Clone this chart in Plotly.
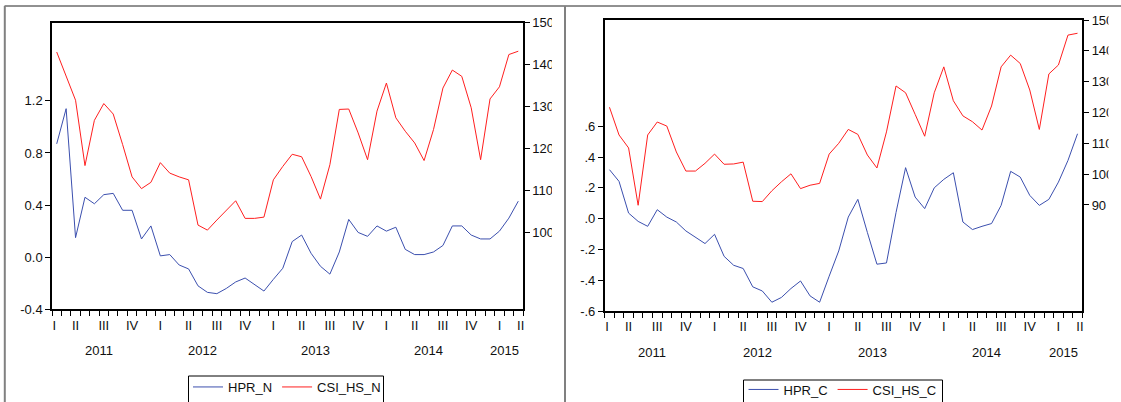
import numpy as np
import pandas as pd
import plotly.graph_objects as go

# ---------------- data (monthly, 2011M03 - 2015M04) ----------------
months = [str(p) for p in pd.period_range("2011-03", "2015-04", freq="M")]

hpr_n = [0.87, 1.14, 0.15, 0.46, 0.41, 0.48, 0.49, 0.36, 0.36, 0.14,
         0.24, 0.01, 0.02, -0.06, -0.09, -0.22, -0.27, -0.28, -0.24, -0.19,
         -0.16, -0.21, -0.26, -0.17, -0.085, 0.12, 0.17, 0.03, -0.07, -0.13,
         0.04, 0.29, 0.19, 0.16, 0.24, 0.20, 0.23, 0.06, 0.02, 0.02,
         0.04, 0.09, 0.24, 0.24, 0.17, 0.14, 0.14, 0.20, 0.30, 0.43]

csi_hs_n = [143.0, 137.0, 131.5, 115.9, 126.7, 130.7, 128.2, 120.9, 113.2, 110.4,
            111.9, 116.6, 114.1, 113.2, 112.5, 101.7, 100.5, 102.9, 105.3, 107.5,
            103.3, 103.3, 103.6, 112.5, 115.7, 118.6, 118.0, 113.3, 107.9, 116.1,
            129.3, 129.4, 123.7, 117.3, 128.9, 135.6, 127.3, 124.1, 121.3, 117.1,
            124.5, 134.4, 138.7, 137.2, 129.7, 117.3, 131.8, 134.7, 142.4, 143.2]

hpr_c = [0.318, 0.242, 0.036, -0.018, -0.05, 0.058, 0.01, -0.022, -0.08, -0.119,
         -0.162, -0.102, -0.245, -0.303, -0.324, -0.443, -0.47, -0.543, -0.512, -0.454,
         -0.405, -0.502, -0.543, -0.374, -0.21, 0.01, 0.125, -0.09, -0.296, -0.288,
         0.04, 0.331, 0.14, 0.065, 0.20, 0.255, 0.298, -0.022, -0.071, -0.05,
         -0.032, 0.086, 0.307, 0.27, 0.151, 0.086, 0.125, 0.237, 0.378, 0.551]

csi_hs_c = [121.7, 112.7, 108.5, 89.9, 112.7, 116.9, 115.6, 107.2, 101.0, 101.0,
            103.5, 106.5, 103.2, 103.3, 103.9, 91.2, 91.1, 94.6, 97.5, 100.1,
            95.3, 96.4, 97.0, 106.5, 110.0, 114.5, 112.9, 106.2, 102.0, 113.7,
            128.6, 126.4, 119.4, 112.3, 126.4, 134.8, 123.8, 118.9, 117.0, 114.3,
            122.1, 134.8, 138.6, 135.9, 127.3, 114.5, 132.5, 135.4, 145.1, 145.7]

quarter_names = ["I", "II", "III", "IV"]
left1_ticks = [-0.4, 0.0, 0.4, 0.8, 1.2]
left1_text = ["-0.4", "0.0", "0.4", "0.8", "1.2"]
right1_ticks = [100, 110, 120, 130, 140, 150]
left2_ticks = [-0.6, -0.4, -0.2, 0.0, 0.2, 0.4, 0.6]
left2_text = ["-.6", "-.4", "-.2", ".0", ".2", ".4", ".6"]
right2_ticks = [90, 100, 110, 120, 130, 140, 150]

# ---------------- derived axis positions ----------------
n = len(months)
idx = np.arange(n)
per = pd.PeriodIndex(months, freq="M")
# quarter labels at middle month of each quarter (clamped at edges)
q_pos, q_txt = [], []
for q in pd.period_range(per[0].asfreq("Q"), per[-1].asfreq("Q"), freq="Q"):
    mid = q.asfreq("M", "s") + 1
    pos = (mid - per[0]).n
    pos = min(max(pos, -0.25), n - 0.75)
    q_pos.append(pos)
    q_txt.append(quarter_names[q.quarter - 1])
boundaries = list(np.arange(-0.5, n, 1.0))
years = sorted(set(per.year))
year_pos = [float(np.mean(idx[per.year == y])) for y in years]

W, H = 1121, 402
FONT = "Liberation Sans, Arial, sans-serif"
BLUE = "#3b4fae"
RED = "#ff1f1f"


def px(x):
    return x / W


def py(y):
    return 1 - y / H


fig = go.Figure()
fig.add_trace(go.Scatter(x=idx, y=hpr_n, name="HPR_N", text=months, mode="lines",
                         line=dict(color=BLUE, width=1), xaxis="x", yaxis="y", legend="legend"))
fig.add_trace(go.Scatter(x=idx, y=csi_hs_n, name="CSI_HS_N", text=months, mode="lines",
                         line=dict(color=RED, width=1), xaxis="x", yaxis="y2", legend="legend"))
fig.add_trace(go.Scatter(x=idx, y=hpr_c, name="HPR_C", text=months, mode="lines",
                         line=dict(color=BLUE, width=1), xaxis="x2", yaxis="y3", legend="legend2"))
fig.add_trace(go.Scatter(x=idx, y=csi_hs_c, name="CSI_HS_C", text=months, mode="lines",
                         line=dict(color=RED, width=1), xaxis="x2", yaxis="y4", legend="legend2"))

axis_common = dict(showgrid=False, zeroline=False, showline=True, linecolor="black",
                   linewidth=1.5, ticks="outside", ticklen=5, tickwidth=1, tickcolor="black",
                   tickfont=dict(family=FONT, size=13, color="#111"))


def xaxis_cfg(dom, anchor):
    d = dict(axis_common)
    d.update(domain=dom, anchor=anchor, range=[-0.5, n - 0.5], mirror=True,
             tickmode="array", tickvals=q_pos, ticktext=q_txt,
             tickcolor="rgba(0,0,0,0)", ticklen=3,
             minor=dict(tickmode="array", tickvals=boundaries, ticks="outside",
                        ticklen=5, tickwidth=1, tickcolor="black", showgrid=False))
    return d


def yaxis_cfg(dom, anchor, rng, tv, tt=None, side="left", overlaying=None):
    d = dict(axis_common)
    d.update(domain=dom, anchor=anchor, range=rng, tickmode="array", tickvals=tv,
             ticktext=tt if tt else [str(v) for v in tv], side=side)
    if overlaying:
        d["overlaying"] = overlaying
    return d


p1x = [px(52), px(523)]
p1y = [py(309.3), py(22.7)]
p2x = [px(604.7), px(1082.3)]
p2y = [py(311), py(20)]

legend_common = dict(xanchor="left", yanchor="top", orientation="h",
                     borderwidth=0, bgcolor="rgba(0,0,0,0)",
                     font=dict(family=FONT, size=13, color="#111"))

fig.update_layout(
    width=W, height=H,
    margin=dict(l=0, r=0, t=0, b=0, autoexpand=False),
    paper_bgcolor="white", plot_bgcolor="white",
    font=dict(family=FONT, size=13, color="#111"),
    xaxis=xaxis_cfg(p1x, "y"),
    yaxis=yaxis_cfg(p1y, "x", [-0.4, 1.8], left1_ticks, left1_text),
    yaxis2=yaxis_cfg(p1y, "x", [81.6, 150], right1_ticks, side="right", overlaying="y"),
    xaxis2=xaxis_cfg(p2x, "y3"),
    yaxis3=yaxis_cfg(p2y, "x2", [-0.6, 1.29], left2_ticks, left2_text),
    yaxis4=yaxis_cfg(p2y, "x2", [55.6, 150], right2_ticks, side="right", overlaying="y3"),
    legend=dict(x=px(188), y=py(372), **legend_common),
    legend2=dict(x=px(743.5), y=py(374.5), **legend_common),
    showlegend=True,
)

annotations = []
for y, pos in zip(years, year_pos):
    annotations.append(dict(x=pos, y=py(350), xref="x", yref="paper", text=str(y),
                            showarrow=False, xanchor="center", yanchor="middle",
                            font=dict(family=FONT, size=13, color="#111")))
    annotations.append(dict(x=pos, y=py(352), xref="x2", yref="paper", text=str(y),
                            showarrow=False, xanchor="center", yanchor="middle",
                            font=dict(family=FONT, size=13, color="#111")))
fig.update_layout(annotations=annotations)

shapes = [
    # clip right-hand labels like the original graph frames
    dict(type="rect", xref="paper", yref="paper", x0=px(552), x1=px(564), y0=0, y1=py(7),
         fillcolor="white", line=dict(width=0), layer="above"),
    dict(type="rect", xref="paper", yref="paper", x0=px(1108.5), x1=1, y0=0, y1=py(7),
         fillcolor="white", line=dict(width=0), layer="above"),
    # legend boxes (bottom edge runs past the picture, as in the original)
    dict(type="rect", xref="paper", yref="paper", x0=px(188.5), x1=px(383.5),
         y0=py(376), y1=py(420), line=dict(color="black", width=1), layer="above"),
    dict(type="rect", xref="paper", yref="paper", x0=px(743.5), x1=px(942.5),
         y0=py(380), y1=py(420), line=dict(color="black", width=1), layer="above"),
    # outer frame lines
    dict(type="line", xref="paper", yref="paper", x0=px(4.5), x1=1, y0=py(6), y1=py(6),
         line=dict(color="#222", width=1), layer="above"),
    dict(type="line", xref="paper", yref="paper", x0=px(4.8), x1=px(4.8), y0=0, y1=py(6),
         line=dict(color="#808080", width=2), layer="above"),
    dict(type="line", xref="paper", yref="paper", x0=px(565), x1=px(565), y0=0, y1=py(6),
         line=dict(color="#808080", width=2), layer="above"),
]
fig.update_layout(shapes=shapes)

fig.write_html("out.html", config={"displayModeBar": False},
               post_script="document.body.style.margin='0';document.body.style.overflow='hidden';")
